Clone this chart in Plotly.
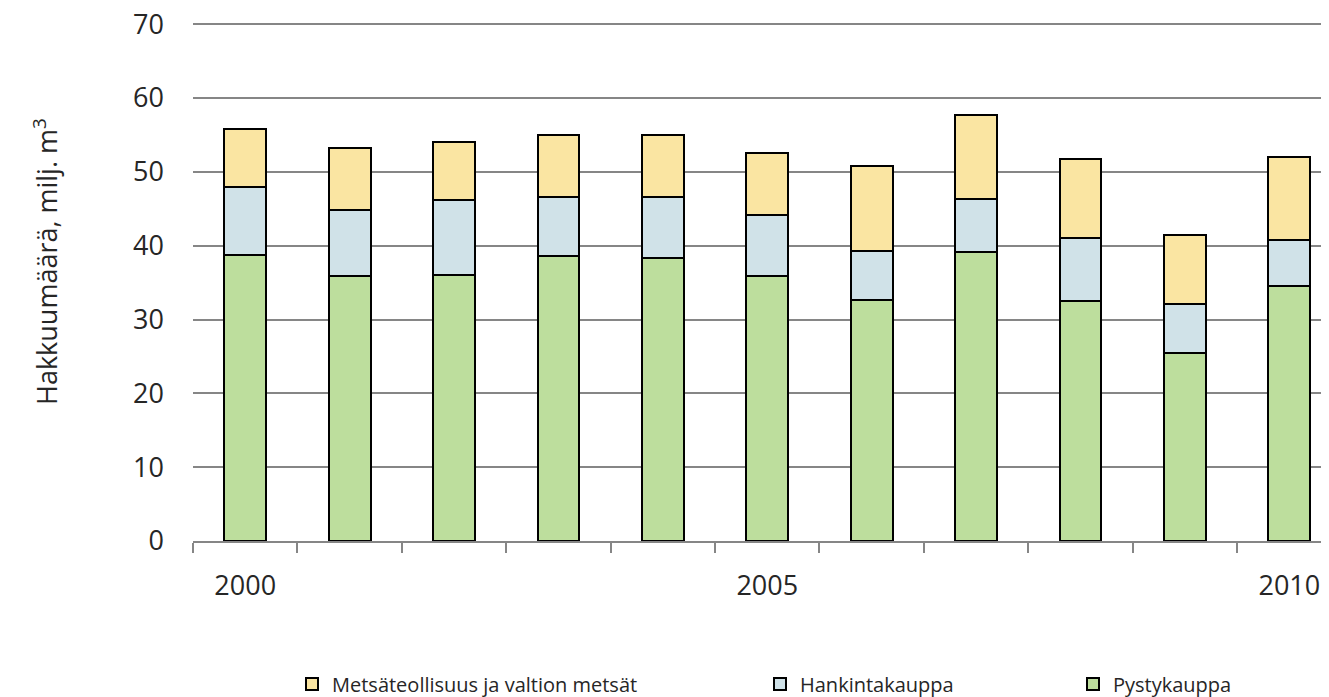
import plotly.graph_objects as go

years = [2000, 2001, 2002, 2003, 2004, 2005, 2006, 2007, 2008, 2009, 2010]
pystykauppa = [38.7, 35.9, 36.0, 38.6, 38.3, 35.9, 32.6, 39.1, 32.5, 25.5, 34.5]
hankintakauppa = [9.2, 9.0, 10.2, 8.0, 8.3, 8.2, 6.7, 7.2, 8.5, 6.6, 6.3]
metsateollisuus = [7.9, 8.3, 7.8, 8.4, 8.4, 8.4, 11.5, 11.4, 10.7, 9.3, 11.2]
ytick_vals = [0, 10, 20, 30, 40, 50, 60, 70]
xtick_vals = [2000, 2005, 2010]
xtick_text = ["2000", "2005", "2010"]

FONT = "Open Sans"
TXT = "#262626"
GRID = "#868686"

OFF = 8  # default page body margin
W, H = 1329 - OFF, 697 - OFF
L, R = 193 - OFF, 0
T = 22 - OFF
B = H - (541 - OFF)
PW = W - L - R
PH = H - T - B

def px_x(px):
    return (px - OFF - L) / PW

def px_y(py):
    return (H - B - (py - OFF)) / PH

fig = go.Figure()
series = [
    ("Pystykauppa", pystykauppa, "#BDDE9D", "legend3"),
    ("Hankintakauppa", hankintakauppa, "#D0E2E8", "legend2"),
    ("Metsäteollisuus ja valtion metsät", metsateollisuus, "#FAE5A2", "legend"),
]
for name, vals, col, lg in series:
    fig.add_trace(go.Bar(
        x=years, y=vals, name=name, legend=lg,
        marker=dict(color=col, line=dict(color="#000000", width=2)),
        width=0.4,
    ))

ly = 1 - (684 - OFF) / H
legend_common = dict(
    orientation="h", yanchor="middle", xanchor="left",
    yref="container", y=ly,
    font=dict(family=FONT, size=20, color=TXT),
    bgcolor="rgba(0,0,0,0)", borderwidth=0,
)
fig.update_layout(
    width=W, height=H,
    margin=dict(l=L, r=R, t=T, b=B, pad=0, autoexpand=False),
    barmode="stack",
    plot_bgcolor="white", paper_bgcolor="white",
    font=dict(family=FONT, color=TXT),
    showlegend=True,
    legend=dict(x=px_x(292), **legend_common),
    legend2=dict(x=px_x(760), **legend_common),
    legend3=dict(x=px_x(1073), **legend_common),
    xaxis=dict(
        range=[1999.5, 2010.38],
        tickmode="array", tickvals=xtick_vals, ticktext=xtick_text,
        ticks="outside", ticklen=0, tickcolor="rgba(0,0,0,0)",
        ticklabelstandoff=20, automargin=False, ticklabeloverflow="allow",
        tickfont=dict(family=FONT, size=27, color=TXT),
        showline=True, linecolor=GRID, linewidth=1.5,
        showgrid=False, zeroline=False,
        minor=dict(ticks="outside", ticklen=10, tickwidth=1.5, tickcolor=GRID,
                   tick0=1999.5, dtick=1, showgrid=False),
    ),
    yaxis=dict(
        range=[0, 70.3],
        tickmode="array", tickvals=ytick_vals,
        ticks="", ticklabelstandoff=28, automargin=False,
        ticklabeloverflow="allow",
        tickfont=dict(family=FONT, size=27, color=TXT),
        showgrid=True, gridcolor=GRID, gridwidth=1.5,
        showline=False, zeroline=False,
    ),
    annotations=[dict(
        text="Hakkuumäärä, milj. m<sup>3</sup>",
        xref="paper", yref="paper",
        x=px_x(45), y=px_y(262),
        xanchor="center", yanchor="middle",
        textangle=-90, showarrow=False,
        font=dict(family=FONT, size=27, color=TXT),
    )],
)

fig.write_html("out.html")
